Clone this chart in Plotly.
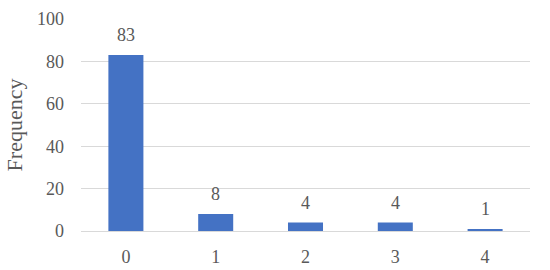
import plotly.graph_objects as go

categories = ["0", "1", "2", "3", "4"]
frequency = [83, 8, 4, 4, 1]
y_ticks = [0, 20, 40, 60, 80, 100]

_FONT = dict(family="Liberation Serif, DejaVu Serif, serif", size=18, color="#595959")

fig = go.Figure()
fig.add_trace(
    go.Bar(
        x=categories,
        y=frequency,
        marker_color="#4472C4",
        marker_line_width=0,
    )
)
for cat, val in zip(categories, frequency):
    fig.add_annotation(
        x=cat,
        y=val,
        text=str(val),
        showarrow=False,
        yanchor="bottom",
        yshift=8,
        font=_FONT,
    )

fig.update_layout(
    width=550,
    height=270,
    margin=dict(l=81, r=20, t=19, b=39),
    plot_bgcolor="white",
    paper_bgcolor="white",
    font=_FONT,
    bargap=0.61,
    showlegend=False,
)
fig.update_xaxes(
    automargin=False,
    showgrid=False,
    showline=True,
    linecolor="#d9d9d9",
    linewidth=1,
    ticks="",
    ticklabelstandoff=9,
)
fig.update_yaxes(
    automargin=False,
    range=[0, 100],
    tickvals=y_ticks,
    showgrid=True,
    gridcolor="#d9d9d9",
    zeroline=False,
    ticks="",
    ticklabelstandoff=16,
    title=dict(text="Frequency", standoff=8),
)
# drop the browser's default 8px body margin so the figure sits at 0,0
fig.write_html(
    "out.html",
    config={"displayModeBar": False},
    post_script="document.body.style.margin='0';",
)
